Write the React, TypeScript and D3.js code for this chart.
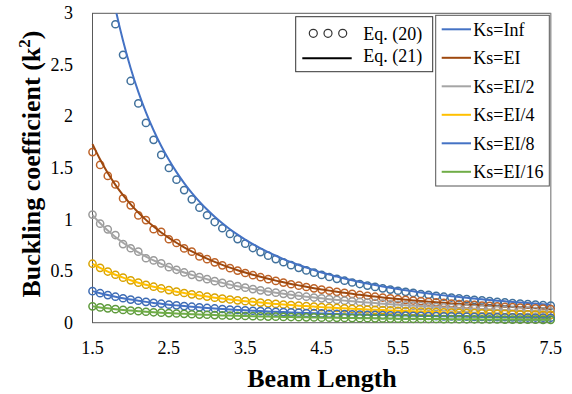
import React, { useEffect, useRef } from 'react'
import * as d3 from 'd3'

// beam length, step 0.1
const beamLength = [1.5, 1.6, 1.7, 1.8, 1.9, 2.0, 2.1, 2.2, 2.3, 2.4, 2.5, 2.6, 2.7, 2.8, 2.9, 3.0, 3.1, 3.2, 3.3, 3.4,
  3.5, 3.6, 3.7, 3.8, 3.9, 4.0, 4.1, 4.2, 4.3, 4.4, 4.5, 4.6, 4.7, 4.8, 4.9, 5.0, 5.1, 5.2, 5.3, 5.4,
  5.5, 5.6, 5.7, 5.8, 5.9, 6.0, 6.1, 6.2, 6.3, 6.4, 6.5, 6.6, 6.7, 6.8, 6.9, 7.0, 7.1, 7.2, 7.3, 7.4, 7.5]

// Eq. (21) lines
const infEq21 = [4.387, 3.855, 3.415, 3.046, 2.734, 2.467, 2.238, 2.039, 1.866, 1.713, 1.579, 1.460, 1.354, 1.259, 1.174, 1.097, 1.027, 0.964, 0.906, 0.854,
  0.806, 0.762, 0.721, 0.684, 0.649, 0.617, 0.587, 0.560, 0.534, 0.510, 0.487, 0.466, 0.447, 0.428, 0.411, 0.395, 0.379, 0.365, 0.351, 0.338,
  0.326, 0.315, 0.304, 0.293, 0.284, 0.274, 0.265, 0.257, 0.249, 0.241, 0.234, 0.227, 0.220, 0.213, 0.207, 0.201, 0.196, 0.190, 0.185, 0.180, 0.175]
const eiEq21 = [1.732, 1.582, 1.451, 1.337, 1.237, 1.148, 1.068, 0.997, 0.933, 0.875, 0.823, 0.775, 0.731, 0.691, 0.655, 0.621, 0.590, 0.561, 0.534, 0.509,
  0.486, 0.465, 0.445, 0.426, 0.408, 0.392, 0.376, 0.362, 0.348, 0.335, 0.323, 0.311, 0.300, 0.290, 0.280, 0.270, 0.262, 0.253, 0.245, 0.237,
  0.230, 0.223, 0.216, 0.210, 0.204, 0.198, 0.193, 0.187, 0.182, 0.177, 0.173, 0.168, 0.164, 0.160, 0.155, 0.152, 0.148, 0.144, 0.141, 0.138, 0.134]
const ei2Eq21 = [1.044, 0.964, 0.893, 0.831, 0.775, 0.726, 0.681, 0.641, 0.604, 0.571, 0.541, 0.513, 0.487, 0.464, 0.442, 0.422, 0.403, 0.386, 0.369, 0.354,
  0.340, 0.326, 0.314, 0.302, 0.291, 0.280, 0.270, 0.261, 0.252, 0.244, 0.236, 0.228, 0.221, 0.214, 0.208, 0.201, 0.195, 0.190, 0.184, 0.179,
  0.174, 0.169, 0.165, 0.161, 0.156, 0.152, 0.148, 0.145, 0.141, 0.138, 0.134, 0.131, 0.128, 0.125, 0.122, 0.119, 0.117, 0.114, 0.112, 0.109, 0.107]
const ei4Eq21 = [0.572, 0.532, 0.496, 0.465, 0.437, 0.411, 0.388, 0.368, 0.349, 0.332, 0.316, 0.301, 0.288, 0.275, 0.264, 0.253, 0.243, 0.234, 0.225, 0.217,
  0.209, 0.202, 0.195, 0.188, 0.182, 0.176, 0.171, 0.165, 0.161, 0.156, 0.151, 0.147, 0.143, 0.139, 0.135, 0.132, 0.128, 0.125, 0.122, 0.119,
  0.116, 0.113, 0.110, 0.108, 0.105, 0.103, 0.100, 0.098, 0.096, 0.094, 0.092, 0.090, 0.088, 0.086, 0.085, 0.083, 0.081, 0.080, 0.078, 0.077, 0.075]
const ei8Eq21 = [0.306, 0.286, 0.268, 0.252, 0.237, 0.224, 0.213, 0.202, 0.192, 0.184, 0.175, 0.168, 0.161, 0.155, 0.149, 0.143, 0.138, 0.133, 0.128, 0.124,
  0.120, 0.116, 0.113, 0.109, 0.106, 0.103, 0.100, 0.097, 0.094, 0.092, 0.090, 0.087, 0.085, 0.083, 0.081, 0.079, 0.077, 0.075, 0.074, 0.072,
  0.070, 0.069, 0.067, 0.066, 0.065, 0.063, 0.062, 0.061, 0.060, 0.058, 0.057, 0.056, 0.055, 0.054, 0.053, 0.052, 0.051, 0.050, 0.050, 0.049, 0.048]
const ei16Eq21 = [0.159, 0.148, 0.139, 0.131, 0.124, 0.118, 0.112, 0.106, 0.101, 0.097, 0.093, 0.089, 0.086, 0.082, 0.079, 0.077, 0.074, 0.071, 0.069, 0.067,
  0.065, 0.063, 0.061, 0.059, 0.058, 0.056, 0.055, 0.053, 0.052, 0.051, 0.049, 0.048, 0.047, 0.046, 0.045, 0.044, 0.043, 0.042, 0.041, 0.040,
  0.039, 0.039, 0.038, 0.037, 0.036, 0.036, 0.035, 0.034, 0.034, 0.033, 0.033, 0.032, 0.032, 0.031, 0.030, 0.030, 0.030, 0.029, 0.029, 0.028, 0.028]

// Eq. (20) circles
const infEq20 = [4.168, 3.662, 3.244, 2.894, 2.597, 2.344, 2.126, 1.937, 1.773, 1.627, 1.500, 1.387, 1.286, 1.196, 1.115, 1.042, 0.976, 0.916, 0.861, 0.811,
  0.766, 0.724, 0.685, 0.650, 0.617, 0.586, 0.558, 0.532, 0.507, 0.485, 0.463, 0.443, 0.425, 0.407, 0.390, 0.375, 0.360, 0.347, 0.333, 0.321,
  0.310, 0.299, 0.289, 0.278, 0.270, 0.260, 0.252, 0.244, 0.237, 0.229, 0.222, 0.216, 0.209, 0.202, 0.197, 0.191, 0.186, 0.181, 0.176, 0.171, 0.166]
const eiEq20 = [1.654, 1.530, 1.423, 1.340, 1.205, 1.138, 1.040, 0.995, 0.906, 0.880, 0.809, 0.773, 0.720, 0.689, 0.642, 0.616, 0.585, 0.556, 0.529, 0.505,
  0.482, 0.461, 0.441, 0.422, 0.405, 0.389, 0.373, 0.359, 0.346, 0.333, 0.321, 0.310, 0.299, 0.289, 0.279, 0.269, 0.261, 0.252, 0.244, 0.236,
  0.229, 0.222, 0.215, 0.209, 0.203, 0.197, 0.192, 0.186, 0.181, 0.176, 0.172, 0.167, 0.163, 0.159, 0.154, 0.151, 0.147, 0.143, 0.140, 0.137, 0.133]
const ei2Eq20 = [1.048, 0.960, 0.905, 0.850, 0.762, 0.722, 0.689, 0.625, 0.604, 0.575, 0.538, 0.513, 0.487, 0.464, 0.442, 0.422, 0.403, 0.386, 0.369, 0.354,
  0.340, 0.326, 0.314, 0.302, 0.291, 0.280, 0.270, 0.261, 0.252, 0.244, 0.236, 0.228, 0.221, 0.214, 0.208, 0.201, 0.195, 0.190, 0.184, 0.179,
  0.174, 0.169, 0.165, 0.161, 0.156, 0.152, 0.148, 0.145, 0.141, 0.138, 0.134, 0.131, 0.128, 0.125, 0.122, 0.119, 0.117, 0.114, 0.112, 0.109, 0.107]
const ei4Eq20 = ei4Eq21
const ei8Eq20 = ei8Eq21
const ei16Eq20 = ei16Eq21

const seriesNames = ['Ks=Inf', 'Ks=EI', 'Ks=EI/2', 'Ks=EI/4', 'Ks=EI/8', 'Ks=EI/16']
const lineValues = [infEq21, eiEq21, ei2Eq21, ei4Eq21, ei8Eq21, ei16Eq21]
const circleValues = [infEq20, eiEq20, ei2Eq20, ei4Eq20, ei8Eq20, ei16Eq20]
const lineColors = ['#4472C4', '#9E480E', '#A5A5A5', '#FFC000', '#4472C4', '#70AD47']
const markerColors = ['#41719C', '#BE6328', '#9A9A9A', '#D9A300', '#3D6BB3', '#5E9A3C']

const xTicks = [1.5, 2.5, 3.5, 4.5, 5.5, 6.5, 7.5]
const yTicks = [0, 0.5, 1, 1.5, 2, 2.5, 3]
const eqLabels = ['Eq. (20)', 'Eq. (21)']

const W = 572, H = 394
const FONT = '"Liberation Serif", "Times New Roman", serif'

export default function App() {
  const ref = useRef<SVGSVGElement>(null)

  useEffect(() => {
    document.body.style.margin = '0'
    const svg = d3.select(ref.current)
    svg.selectAll('*').remove()

    const left = 92.5, right = 550.7, top = 13.3, bottom = 322.7

    const x = d3.scaleLinear().domain([1.5, 7.5]).range([left, right])
    const y = d3.scaleLinear().domain([0, 3]).range([bottom, top])

    svg.append('rect').attr('width', W).attr('height', H).attr('fill', '#fff')

    svg.append('defs').append('clipPath').attr('id', 'plot-clip')
      .append('rect').attr('x', 0).attr('y', top).attr('width', W).attr('height', H - top)

    // frame
    svg.append('rect')
      .attr('x', left).attr('y', top)
      .attr('width', right - left).attr('height', bottom - top)
      .attr('fill', 'none').attr('stroke', '#595959').attr('stroke-width', 1)
    svg.append('line')
      .attr('x1', right).attr('x2', right).attr('y1', top).attr('y2', bottom)
      .attr('stroke', '#a0a0a0').attr('stroke-width', 1.2)

    // tick labels
    svg.append('g').selectAll('text').data(yTicks).enter().append('text')
      .attr('x', 73).attr('y', d => y(d) + 6)
      .attr('text-anchor', 'end')
      .attr('font-family', FONT).attr('font-size', 18)
      .text(d => String(d))

    svg.append('g').selectAll('text').data(xTicks).enter().append('text')
      .attr('x', d => x(d)).attr('y', 354)
      .attr('text-anchor', 'middle')
      .attr('font-family', FONT).attr('font-size', 18)
      .text(d => d.toFixed(1))

    // series
    const lineGen = d3.line<number>()
      .x((d, i) => x(beamLength[i]))
      .y(d => y(d))
      .curve(d3.curveMonotoneX)

    const plot = svg.append('g').attr('clip-path', 'url(#plot-clip)')
    seriesNames.forEach((name, s) => {
      const g = plot.append('g').attr('class', 'series-' + s)
      g.selectAll('circle').data(circleValues[s]).enter().append('circle')
        .attr('cx', (d, i) => x(beamLength[i]))
        .attr('cy', d => y(d))
        .attr('r', 3.6)
        .attr('fill', 'none')
        .attr('stroke', markerColors[s])
        .attr('stroke-width', 1.5)
      g.append('path')
        .attr('d', lineGen(lineValues[s]))
        .attr('fill', 'none')
        .attr('stroke', lineColors[s])
        .attr('stroke-width', 2)
    })

    // axis titles
    svg.append('text')
      .attr('x', 322).attr('y', 387)
      .attr('text-anchor', 'middle')
      .attr('font-family', FONT).attr('font-size', 26).attr('font-weight', 'bold')
      .text('Beam Length')

    const yt = svg.append('text')
      .attr('transform', 'translate(40,164) rotate(-90)')
      .attr('text-anchor', 'middle')
      .attr('font-family', FONT).attr('font-size', 26).attr('font-weight', 'bold')
    yt.append('tspan').text('Buckling coefficient (k')
    yt.append('tspan').attr('dy', -10).attr('font-size', 17).text('2')
    yt.append('tspan').attr('dy', 10).text(')')

    // legend: equations
    const eq = svg.append('g')
    eq.append('rect')
      .attr('x', 295.7).attr('y', 16.7).attr('width', 137).attr('height', 55)
      .attr('fill', '#fff').attr('stroke', '#333').attr('stroke-width', 1)
    eq.selectAll('circle').data([0, 1, 2]).enter().append('circle')
      .attr('cx', d => 313.3 + d * 14.7).attr('cy', 33.3).attr('r', 4)
      .attr('fill', 'none').attr('stroke', '#333').attr('stroke-width', 1.2)
    eq.append('line')
      .attr('x1', 302.3).attr('x2', 351.7).attr('y1', 58.3).attr('y2', 58.3)
      .attr('stroke', '#000').attr('stroke-width', 2)
    eq.selectAll('text').data(eqLabels).enter().append('text')
      .attr('x', 363.3).attr('y', (d, i) => 39.5 + i * 22)
      .attr('font-family', FONT).attr('font-size', 18)
      .text(d => d)

    // legend: series
    const lg = svg.append('g')
    lg.append('rect')
      .attr('x', 435.7).attr('y', 15.3).attr('width', 113.6).attr('height', 170.7)
      .attr('fill', '#fff').attr('stroke', '#555').attr('stroke-width', 1)
    const items = lg.selectAll('g').data(seriesNames).enter().append('g')
      .attr('transform', (d, i) => 'translate(0,' + (29.3 + i * 28.5) + ')')
    items.append('line')
      .attr('x1', 441.7).attr('x2', 471).attr('y1', 0).attr('y2', 0)
      .attr('stroke', (d, i) => lineColors[i]).attr('stroke-width', 2)
    items.append('text')
      .attr('x', 473.3).attr('y', 6.5)
      .attr('font-family', FONT).attr('font-size', 18)
      .text(d => d)
  }, [])

  return <svg ref={ref} width={W} height={H} style={{ display: 'block' }}></svg>
}
